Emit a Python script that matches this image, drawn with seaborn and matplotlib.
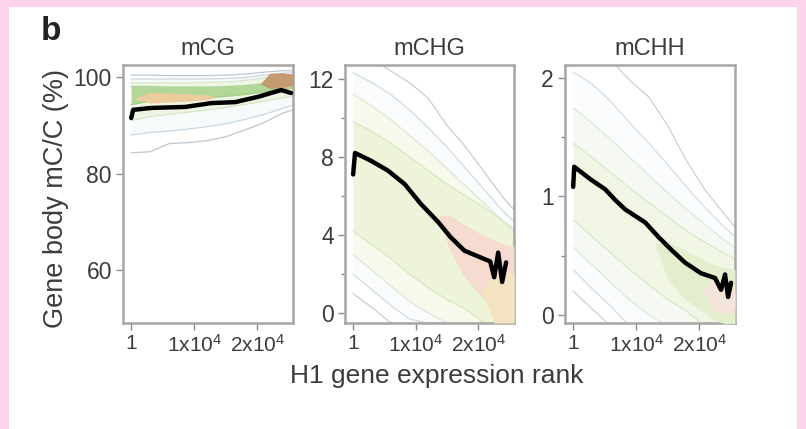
import matplotlib
matplotlib.use("Agg")
import matplotlib.pyplot as plt
import seaborn as sns
import pandas as pd
import numpy as np
from matplotlib.patches import Rectangle

# ------------------------------------------------------------------ data
panel_titles = ["mCG", "mCHG", "mCHH"]
x_tick_values = [1, 10000, 20000]
x_tick_labels = ["1", "1x10$^4$", "2x10$^4$"]

mcg_yticks = [60, 80, 100]
mchg_yticks = [0, 4, 8, 12]
mchg_minor_ticks = [2, 6, 10]
mchh_yticks = [0, 1, 2]
mchh_minor_ticks = [0.5, 1.5]

# running median of gene-body methylation vs expression rank
mcg_median_rank = [1, 317, 3174, 8570, 12696, 16505, 20155, 22218, 23805, 25392]
mcg_median = [91.5, 93.2, 93.6, 93.8, 94.6, 94.8, 95.9, 96.7, 97.3, 96.7]

mchg_median_rank = [1, 300, 2857, 5555, 8252, 10792, 13490, 15553, 17774, 20314,
                    21900, 22535, 23170, 23805, 24440]
mchg_median = [7.1, 8.2, 7.8, 7.3, 6.6, 5.6, 4.7, 3.9, 3.2, 2.86,
               2.65, 1.84, 3.1, 1.6, 2.6]

mchh_median_rank = [1, 160, 2857, 5078, 6665, 8252, 11426, 13490, 15553, 17774,
                    20314, 22535, 23488, 24122, 24598, 25074]
mchh_median = [1.08, 1.25, 1.14, 1.06, 0.97, 0.89, 0.78, 0.66, 0.55, 0.44,
               0.35, 0.31, 0.21, 0.34, 0.15, 0.27]

# density contour envelopes (lower / upper edge of each level) at rank bins
rank_bins = [0, 3000, 6000, 9000, 12000, 15000, 18000, 21000, 24000, 25700]

mcg_l1_hi = [100.4, 100.4, 100.3, 100.3, 100.3, 100.4, 100.6, 101.0, 101.3, 101.3]
mcg_l1_lo = [84.3, 84.5, 86.2, 86.4, 86.8, 87.6, 89.0, 90.5, 92.5, 93.2]
mcg_l2_hi = [99.6, 99.6, 99.6, 99.6, 99.6, 99.7, 99.9, 100.4, 100.8, 100.9]
mcg_l2_lo = [88.0, 88.5, 88.8, 89.2, 89.7, 90.3, 91.2, 92.2, 93.5, 94.2]
mcg_l3_hi = [98.8, 98.8, 98.8, 98.8, 98.9, 99.0, 99.3, 99.8, 100.3, 100.5]
mcg_l3_lo = [91.0, 91.8, 92.3, 92.7, 93.2, 93.7, 94.3, 95.0, 95.7, 96.0]
mcg_l4_hi = [98.0, 98.0, 97.9, 97.9, 97.9, 98.0, 98.2, 98.6, 99.2, 99.3]
mcg_l4_lo = [94.3, 95.0, 95.2, 95.4, 95.7, 96.0, 96.4, 96.9, 97.5, 97.7]
mcg_core_rank = [300, 3000, 6000, 9000, 12000, 13500]
mcg_core_hi = [95.6, 96.8, 96.7, 96.5, 96.3, 95.8]
mcg_core_lo = [95.6, 94.6, 94.8, 95.0, 95.3, 95.8]
mcg_peak_rank = [20500, 22000, 24000, 25700]
mcg_peak_hi = [98.6, 100.8, 100.9, 100.6]
mcg_peak_lo = [98.6, 97.6, 97.8, 98.3]

mchg_l1_hi = [13.0, 13.0, 12.4, 11.8, 11.0, 9.6, 8.5, 7.2, 5.9, 5.3]
mchg_l1_lo = [1.0, 0.3, -0.5, -0.5, -0.5, -0.5, -0.5, -0.5, -0.5, -0.5]
mchg_l2_hi = [12.3, 11.8, 11.2, 10.4, 9.5, 8.5, 7.4, 6.3, 5.2, 4.7]
mchg_l2_lo = [2.0, 1.2, 0.4, -0.3, -0.5, -0.5, -0.5, -0.5, -0.5, -0.5]
mchg_l3_hi = [11.2, 10.6, 9.9, 9.1, 8.3, 7.4, 6.5, 5.6, 4.7, 4.2]
mchg_l3_lo = [3.0, 2.2, 1.4, 0.6, 0.0, -0.5, -0.5, -0.5, -0.5, -0.5]
mchg_l4_hi = [9.8, 9.3, 8.7, 8.0, 7.3, 6.6, 6.0, 5.4, 4.7, 4.3]
mchg_l4_lo = [4.2, 3.5, 2.8, 2.0, 1.3, 0.7, 0.2, -0.5, -0.5, -0.5]
mchg_core_rank = [13500, 15500, 17500, 19500, 21500, 23500, 25700]
mchg_core_hi = [5.0, 5.0, 4.6, 4.2, 3.9, 3.6, 3.4]
mchg_core_lo = [5.0, 3.2, 2.0, 1.2, 0.5, -0.2, -0.5]
mchg_peak_rank = [20500, 22500, 24000, 25700]
mchg_peak_hi = [1.2, 2.0, 2.2, 2.0]
mchg_peak_lo = [1.2, -0.5, -0.5, -0.5]

mchh_l1_hi = [2.3, 2.3, 2.15, 1.98, 1.84, 1.6, 1.3, 1.05, 0.85, 0.74]
mchh_l1_lo = [0.2, 0.05, -0.1, -0.1, -0.1, -0.1, -0.1, -0.1, -0.1, -0.1]
mchh_l2_hi = [2.05, 1.95, 1.8, 1.62, 1.45, 1.27, 1.08, 0.9, 0.74, 0.66]
mchh_l2_lo = [0.38, 0.22, 0.07, -0.1, -0.1, -0.1, -0.1, -0.1, -0.1, -0.1]
mchh_l3_hi = [1.75, 1.62, 1.48, 1.33, 1.18, 1.03, 0.89, 0.76, 0.63, 0.57]
mchh_l3_lo = [0.57, 0.42, 0.27, 0.12, 0.0, -0.1, -0.1, -0.1, -0.1, -0.1]
mchh_l4_hi = [1.45, 1.33, 1.2, 1.07, 0.95, 0.83, 0.71, 0.61, 0.52, 0.47]
mchh_l4_lo = [0.8, 0.66, 0.52, 0.38, 0.25, 0.13, 0.03, -0.1, -0.1, -0.1]
mchh_core_rank = [13000, 15000, 17500, 20000, 22500, 25700]
mchh_core_hi = [0.6, 0.62, 0.55, 0.48, 0.42, 0.38]
mchh_core_lo = [0.6, 0.3, 0.14, 0.05, -0.05, -0.1]
mchh_peak_rank = [20500, 22500, 24500, 25700]
mchh_peak_hi = [0.2, 0.3, 0.28, 0.2]
mchh_peak_lo = [0.2, 0.02, 0.0, 0.05]

# ------------------------------------------------------------------ style
sns.set_theme(style="white")
plt.rcParams["font.family"] = ["Liberation Sans", "DejaVu Sans"]
plt.rcParams["mathtext.fontset"] = "custom"
plt.rcParams["mathtext.rm"] = "Liberation Sans"
plt.rcParams["mathtext.it"] = "Liberation Sans"
plt.rcParams["mathtext.bf"] = "Liberation Sans:bold"

PINK = "#fcd3ea"
FRAME = "#a6a6a6"
TICKC = "#8c8c8c"
TEXTC = "#3c3c3c"

fig = plt.figure(figsize=(8.06, 4.29), dpi=100, facecolor=PINK)
fig.patches.append(Rectangle((9 / 806, 0), 788 / 806, 1 - 7 / 429,
                             transform=fig.transFigure, facecolor="white",
                             edgecolor="none", zorder=-10))

W, H = 806, 429
boxes = [(123, 170), (345, 169), (565, 170)]
top_px, bot_px = 65, 323

panels = [
    dict(title=panel_titles[0], ylim=(49, 102.5), yticks=mcg_yticks, minor=[],
         med=(mcg_median_rank, mcg_median),
         levels=[(mcg_l1_lo, mcg_l1_hi), (mcg_l2_lo, mcg_l2_hi),
                 (mcg_l3_lo, mcg_l3_hi), (mcg_l4_lo, mcg_l4_hi)],
         fills=[None, "#f7fafb", "#eef5e2", "#b3d798"],
         edges=["#bcc8d2", "#cbd7df", "#d6e7c8", "#a5cf8c"],
         blobs=[(mcg_core_rank, mcg_core_lo, mcg_core_hi, "#ebcc9c"),
                (mcg_peak_rank, mcg_peak_lo, mcg_peak_hi, "#c49a70")]),
    dict(title=panel_titles[1], ylim=(-0.5, 12.7), yticks=mchg_yticks, minor=mchg_minor_ticks,
         med=(mchg_median_rank, mchg_median),
         levels=[(mchg_l1_lo, mchg_l1_hi), (mchg_l2_lo, mchg_l2_hi),
                 (mchg_l3_lo, mchg_l3_hi), (mchg_l4_lo, mchg_l4_hi)],
         fills=[None, "#f9fbfc", "#f6f9ec", "#eef4da"],
         edges=["#c3ced7", "#d0dbe2", "#dce8d2", "#d8e8c0"],
         blobs=[(mchg_core_rank, mchg_core_lo, mchg_core_hi, "#f6dcd0"),
                (mchg_peak_rank, mchg_peak_lo, mchg_peak_hi, "#f4e4c2")]),
    dict(title=panel_titles[2], ylim=(-0.07, 2.11), yticks=mchh_yticks, minor=mchh_minor_ticks,
         med=(mchh_median_rank, mchh_median),
         levels=[(mchh_l1_lo, mchh_l1_hi), (mchh_l2_lo, mchh_l2_hi),
                 (mchh_l3_lo, mchh_l3_hi), (mchh_l4_lo, mchh_l4_hi)],
         fills=[None, "#fafcfd", "#f6f9f3", "#f1f6e4"],
         edges=["#c6d1da", "#d2dce4", "#dce8d8", "#d9e8c8"],
         blobs=[(mchh_core_rank, mchh_core_lo, mchh_core_hi, "#e2eecc"),
                (mchh_peak_rank, mchh_peak_lo, mchh_peak_hi, "#f4e3da")]),
]

for (left, width), p in zip(boxes, panels):
    ax = fig.add_axes([left / W, 1 - bot_px / H, width / W, (bot_px - top_px) / H])
    ax.set_facecolor("white")
    ax.set_xlim(-1300, 25700)
    ax.set_ylim(*p["ylim"])

    # density contour levels
    for (lo, hi), fc, ec in zip(p["levels"], p["fills"], p["edges"]):
        if fc is not None:
            ax.fill_between(rank_bins, lo, hi, color=fc, lw=0, zorder=1)
        ax.plot(rank_bins, lo, color=ec, lw=0.9, zorder=2)
        ax.plot(rank_bins, hi, color=ec, lw=0.9, zorder=2)
    for xr, lo, hi, col in p["blobs"]:
        ax.fill_between(xr, lo, hi, color=col, lw=0, zorder=3)

    # running median
    df = pd.DataFrame({"rank": p["med"][0], "value": p["med"][1]})
    sns.lineplot(data=df, x="rank", y="value", ax=ax, color="black", lw=3.2,
                 estimator=None, sort=False, zorder=5)

    ax.set_xlabel("")
    ax.set_ylabel("")
    ax.set_title(p["title"], fontsize=17, color=TEXTC, pad=7)

    ax.set_xticks(x_tick_values)
    ax.set_xticklabels(x_tick_labels)
    ax.set_yticks(p["yticks"])
    ax.set_yticklabels([f"{v:g}" for v in p["yticks"]])
    if p["minor"]:
        ax.set_yticks(p["minor"], minor=True)
    ax.tick_params(axis="both", which="major", direction="out", length=5, width=1,
                   color=TICKC, labelcolor=TEXTC, pad=3, bottom=True, left=True)
    ax.tick_params(axis="x", which="major", labelsize=15)
    ax.tick_params(axis="y", which="major", labelsize=16.5)
    ax.tick_params(axis="y", which="minor", direction="out", length=3, width=1,
                   color=TICKC, left=True)
    for s in ax.spines.values():
        s.set_color(FRAME)
        s.set_linewidth(1.8)
        s.set_visible(True)

fig.text(56 / W, 1 - 198 / H, "Gene body mC/C (%)", rotation=90, ha="center",
         va="center", fontsize=19.5, color=TEXTC)
fig.text(437 / W, 1 - 376 / H, "H1 gene expression rank", ha="center",
         va="center", fontsize=19, color=TEXTC)
fig.text(51 / W, 1 - 32 / H, "b", ha="center", va="center", fontsize=24,
         fontweight="bold", color="#222222")

fig.savefig("out.png", dpi=100, facecolor=PINK)
